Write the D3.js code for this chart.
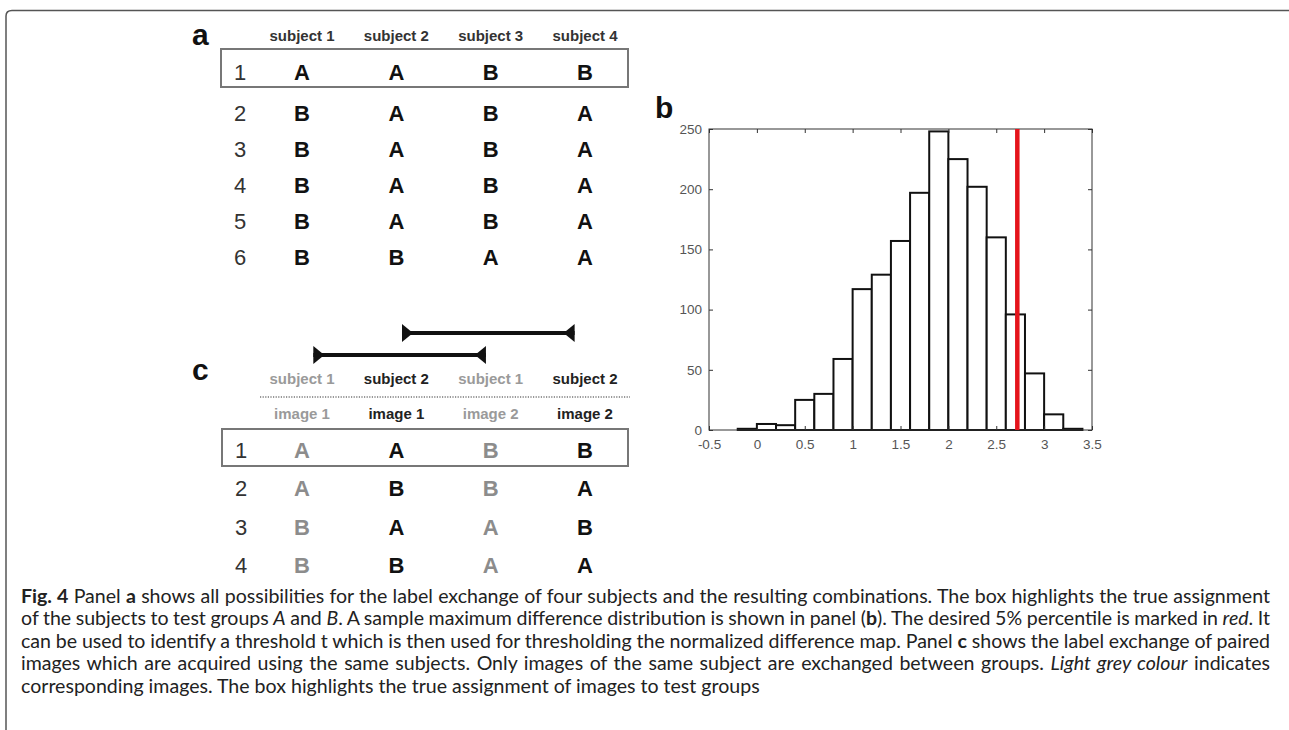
<!DOCTYPE html>
<html>
<head>
<meta charset="utf-8">
<script src="https://cdn.jsdelivr.net/npm/d3@7"></script>
<style>
  html, body { margin: 0; padding: 0; background: #fff; }
  svg { display: block; }
</style>
</head>
<body>
<svg id="chart" width="1289" height="730"></svg>
<script>
// ---------- DATA ----------
// Panel a
const subjectsA = ["subject 1", "subject 2", "subject 3", "subject 4"];
const rowNumbersA = ["1", "2", "3", "4", "5", "6"];
const rowsA = [
  ["A", "A", "B", "B"],
  ["B", "A", "B", "A"],
  ["B", "A", "B", "A"],
  ["B", "A", "B", "A"],
  ["B", "A", "B", "A"],
  ["B", "B", "A", "A"]
];
// Panel b (histogram)
const binEdges = [-0.2, 0, 0.2, 0.4, 0.6, 0.8, 1.0, 1.2, 1.4, 1.6, 1.8, 2.0, 2.2, 2.4, 2.6, 2.8, 3.0, 3.2, 3.4];
const binCounts = [1, 5, 4, 25, 30, 59, 117, 129, 157, 197, 248, 225, 202, 160, 96, 47, 13, 1];
const xTicks = [-0.5, 0, 0.5, 1, 1.5, 2, 2.5, 3, 3.5];
const xTickLabels = ["-0.5", "0", "0.5", "1", "1.5", "2", "2.5", "3", "3.5"];
const yTicks = [0, 50, 100, 150, 200, 250];
const threshold = 2.72;
// Panel c
const subjectsC = ["subject 1", "subject 2", "subject 1", "subject 2"];
const imagesC = ["image 1", "image 1", "image 2", "image 2"];
const greyColsC = [true, false, true, false];
const rowNumbersC = ["1", "2", "3", "4"];
const rowsC = [
  ["A", "A", "B", "B"],
  ["A", "B", "B", "A"],
  ["B", "A", "A", "B"],
  ["B", "B", "A", "A"]
];
// exchange brackets (in column units)
const bracketsC = [
  { from: 1.06, to: 2.89, level: 0 },
  { from: 0.12, to: 1.95, level: 1 }
];
// Caption (segments: text, style b=bold i=italic)
const captionLines = [
  [["Fig. 4", "b"], [" Panel ", ""], ["a", "b"], [" shows all possibilities for the label exchange of four subjects and the resulting combinations. The box highlights the true assignment", ""]],
  [["of the subjects to test groups ", ""], ["A", "i"], [" and ", ""], ["B", "i"], [". A sample maximum difference distribution is shown in panel (", ""], ["b", "b"], ["). The desired 5% percentile is marked in ", ""], ["red", "i"], [". It", ""]],
  [["can be used to identify a threshold t which is then used for thresholding the normalized difference map. Panel ", ""], ["c", "b"], [" shows the label exchange of paired", ""]],
  [["images which are acquired using the same subjects. Only images of the same subject are exchanged between groups. ", ""], ["Light grey colour", "i"], [" indicates", ""]],
  [["corresponding images. The box highlights the true assignment of images to test groups", ""]]
];

// ---------- DRAW ----------
const svg = d3.select("#chart");
const SANS = "'Liberation Sans', Arial, Helvetica, sans-serif";

// frame
svg.append("path")
  .attr("d", "M6,730 V16 Q6,10.5 12,10.5 H1289")
  .attr("fill", "none").attr("stroke", "#555").attr("stroke-width", 1.5);

// panel labels
const panelLabels = [{ t: "a", x: 192, y: 45 }, { t: "b", x: 655, y: 118 }, { t: "c", x: 192, y: 380 }];
svg.selectAll("text.plabel").data(panelLabels).join("text")
  .attr("class", "plabel")
  .attr("x", d => d.x).attr("y", d => d.y)
  .attr("font-family", SANS).attr("font-weight", "bold").attr("font-size", 30)
  .attr("fill", "#111").text(d => d.t);

// shared column scale
const colX = d3.scaleLinear().domain([0, 3]).range([302, 585]);

// ----- Panel a -----
const gA = svg.append("g");
gA.selectAll("text.hdr").data(subjectsA).join("text")
  .attr("x", (d, i) => colX(i)).attr("y", 35)
  .attr("text-anchor", "middle").attr("dominant-baseline", "central")
  .attr("font-family", SANS).attr("font-weight", "bold").attr("font-size", 15)
  .attr("fill", "#333").text(d => d);

const rowYA = i => 72.5 + i * 36 + (i > 0 ? 5 : 0);
gA.append("rect")
  .attr("x", 221).attr("y", 49).attr("width", 407).attr("height", 38)
  .attr("fill", "none").attr("stroke", "#777").attr("stroke-width", 2);

gA.selectAll("text.num").data(rowNumbersA).join("text")
  .attr("x", 240).attr("y", (d, i) => rowYA(i))
  .attr("text-anchor", "middle").attr("dominant-baseline", "central")
  .attr("font-family", SANS).attr("font-size", 22).attr("fill", "#333").text(d => d);

rowsA.forEach((row, r) => {
  gA.selectAll(null).data(row).join("text")
    .attr("x", (d, i) => colX(i)).attr("y", rowYA(r))
    .attr("text-anchor", "middle").attr("dominant-baseline", "central")
    .attr("font-family", SANS).attr("font-weight", "bold").attr("font-size", 22)
    .attr("fill", "#111").text(d => d);
});

// ----- Panel c -----
const gC = svg.append("g");
const bracketY = lvl => 333 + lvl * 22;
bracketsC.forEach(b => {
  const x0 = colX(b.from), x1 = colX(b.to), y = bracketY(b.level);
  gC.append("line").attr("x1", x0).attr("x2", x1).attr("y1", y).attr("y2", y)
    .attr("stroke", "#111").attr("stroke-width", 4);
  gC.append("path").attr("d", `M${x0},${y - 9} L${x0 + 11},${y} L${x0},${y + 9} Z`).attr("fill", "#111");
  gC.append("path").attr("d", `M${x1},${y - 9} L${x1 - 11},${y} L${x1},${y + 9} Z`).attr("fill", "#111");
});

const greyC = "#8c8c8c", darkC = "#111";
gC.selectAll("text.hdr").data(subjectsC).join("text")
  .attr("x", (d, i) => colX(i)).attr("y", 378)
  .attr("text-anchor", "middle").attr("dominant-baseline", "central")
  .attr("font-family", SANS).attr("font-weight", "bold").attr("font-size", 15)
  .attr("fill", (d, i) => greyColsC[i] ? "#9a9a9a" : "#222").text(d => d);

gC.append("line").attr("x1", 260).attr("x2", 630).attr("y1", 397).attr("y2", 397)
  .attr("stroke", "#777").attr("stroke-width", 1.5).attr("stroke-dasharray", "1.2,1.4");

gC.selectAll("text.img").data(imagesC).join("text")
  .attr("x", (d, i) => colX(i)).attr("y", 413)
  .attr("text-anchor", "middle").attr("dominant-baseline", "central")
  .attr("font-family", SANS).attr("font-weight", "bold").attr("font-size", 15)
  .attr("fill", (d, i) => greyColsC[i] ? "#9a9a9a" : "#222").text(d => d);

gC.append("rect")
  .attr("x", 222).attr("y", 429).attr("width", 406).attr("height", 37)
  .attr("fill", "none").attr("stroke", "#777").attr("stroke-width", 2);

const rowYC = i => 450 + i * 38.5;
gC.selectAll("text.num").data(rowNumbersC).join("text")
  .attr("x", 241).attr("y", (d, i) => rowYC(i))
  .attr("text-anchor", "middle").attr("dominant-baseline", "central")
  .attr("font-family", SANS).attr("font-size", 22).attr("fill", "#333").text(d => d);

rowsC.forEach((row, r) => {
  gC.selectAll(null).data(row).join("text")
    .attr("x", (d, i) => colX(i)).attr("y", rowYC(r))
    .attr("text-anchor", "middle").attr("dominant-baseline", "central")
    .attr("font-family", SANS).attr("font-weight", "bold").attr("font-size", 22)
    .attr("fill", (d, i) => greyColsC[i] ? greyC : darkC).text(d => d);
});

// ----- Panel b: histogram -----
const x = d3.scaleLinear().domain([-0.5, 3.5]).range([709, 1092]);
const y = d3.scaleLinear().domain([0, 250]).range([430, 129]);
const gB = svg.append("g");

const bins = binCounts.map((c, i) => ({ x0: binEdges[i], x1: binEdges[i + 1], c }));
gB.selectAll("rect.bar").data(bins).join("rect")
  .attr("class", "bar")
  .attr("x", d => x(d.x0)).attr("width", d => x(d.x1) - x(d.x0))
  .attr("y", d => y(d.c)).attr("height", d => y(0) - y(d.c))
  .attr("fill", "#fff").attr("stroke", "#111").attr("stroke-width", 2);

const tickStyle = g => {
  g.select(".domain").remove();
  g.selectAll(".tick line").attr("stroke", "#333").attr("stroke-width", 1);
  g.selectAll(".tick text").attr("fill", "#555").attr("font-family", SANS).attr("font-size", 13.5);
};
gB.append("g").attr("transform", `translate(0,${y(0)})`)
  .call(d3.axisBottom(x).tickValues(xTicks).tickFormat((d, i) => xTickLabels[i]).tickSizeInner(-4).tickPadding(9))
  .call(tickStyle);
gB.append("g").attr("transform", `translate(0,${y(250)})`)
  .call(d3.axisTop(x).tickValues(xTicks).tickFormat("").tickSizeInner(-4))
  .call(tickStyle);
gB.append("g").attr("transform", `translate(${x(-0.5)},0)`)
  .call(d3.axisLeft(y).tickValues(yTicks).tickFormat(d => String(d)).tickSizeInner(-4).tickPadding(7))
  .call(tickStyle);
gB.append("g").attr("transform", `translate(${x(3.5)},0)`)
  .call(d3.axisRight(y).tickValues(yTicks).tickFormat("").tickSizeInner(-4))
  .call(tickStyle);

gB.append("rect")
  .attr("x", x(-0.5)).attr("y", y(250)).attr("width", x(3.5) - x(-0.5)).attr("height", y(0) - y(250))
  .attr("fill", "none").attr("stroke", "#333").attr("stroke-width", 1);

gB.append("line")
  .attr("x1", x(threshold)).attr("x2", x(threshold)).attr("y1", y(0)).attr("y2", y(250))
  .attr("stroke", "#e5141b").attr("stroke-width", 4.5);

// ----- Caption -----
const CAPFONT = "Lato, 'Open Sans', sans-serif";
const capG = svg.append("g");
const capX = 21, capRight = 1270, lastLineRight = 760;
const capTexts = captionLines.map((segs, li) => {
  const t = capG.append("text")
    .attr("x", capX).attr("y", 603 + li * 22.4)
    .attr("font-family", CAPFONT).attr("font-size", 16).attr("fill", "#222");
  segs.forEach(([s, st]) => {
    t.append("tspan").text(s)
      .attr("font-weight", st === "b" ? "bold" : null)
      .attr("font-style", st === "i" ? "italic" : null);
  });
  return t;
});
// size the font from the un-justified last line, then justify the other lines
const nLast = capTexts.length - 1;
const wLast = capTexts[nLast].node().getComputedTextLength();
const fs = 16 * (lastLineRight - capX) / wLast;
capTexts.forEach(t => t.attr("font-size", fs));
capTexts.forEach((t, li) => {
  if (li === nLast) return;
  const w = t.node().getComputedTextLength();
  const spaces = captionLines[li].map(s => s[0]).join("").split(" ").length - 1;
  const extra = (capRight - capX - w) / spaces;
  t.attr("word-spacing", extra);
});
</script>
</body>
</html>
